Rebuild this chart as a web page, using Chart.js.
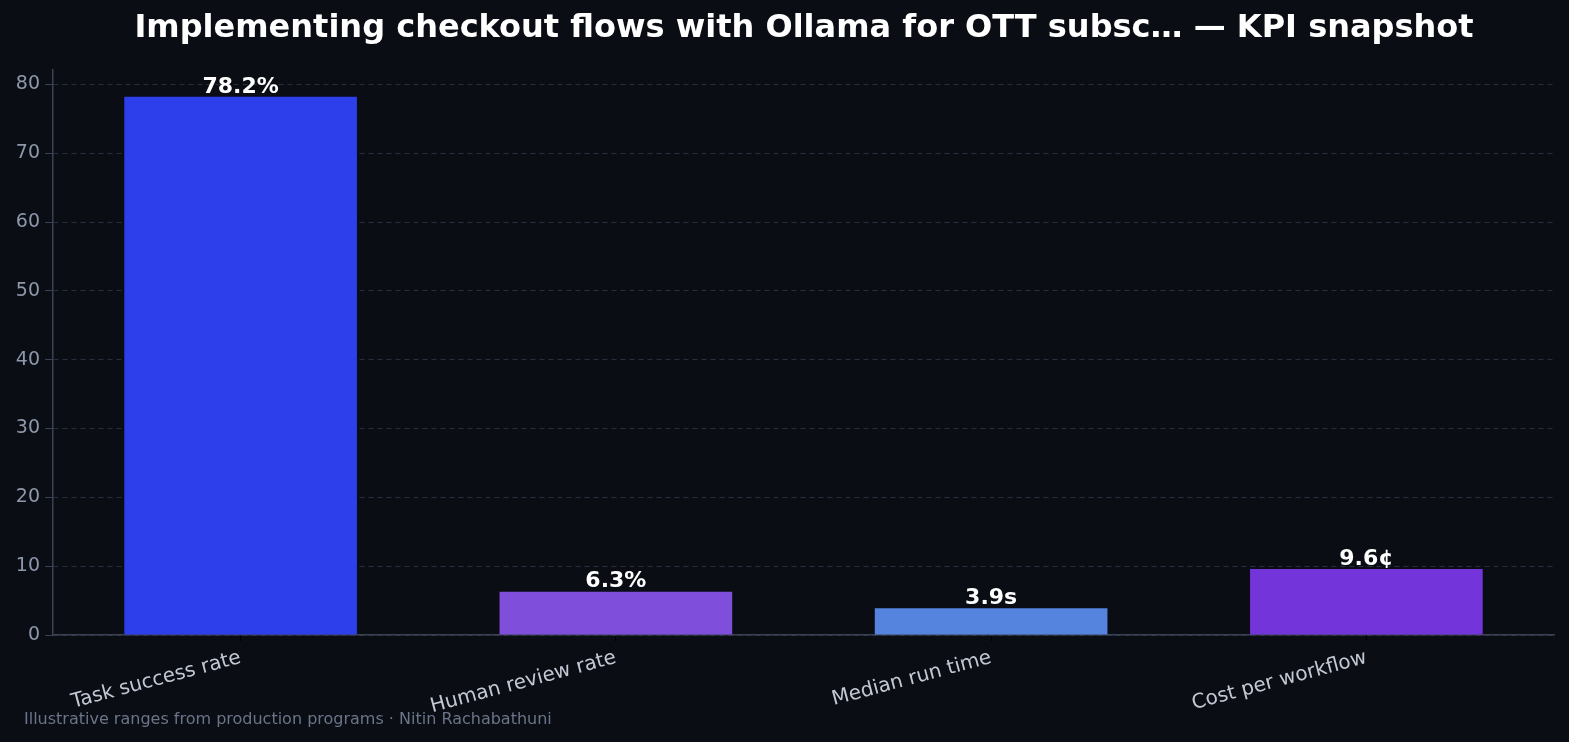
<!DOCTYPE html>
<html lang="en">
<head>
<meta charset="UTF-8">
<title>KPI snapshot</title>
<script src="https://cdn.jsdelivr.net/npm/chart.js"></script>
<style>
  html, body { margin: 0; padding: 0; background: #0a0d14; }
  #wrap { width: 1569px; height: 742px; }
</style>
</head>
<body>
<div id="wrap"><canvas id="grafico"></canvas></div>
<script>
    // dados
    var categorias = ['Task success rate', 'Human review rate', 'Median run time', 'Cost per workflow'];
    var valores = [78.2, 6.3, 3.9, 9.6];
    var rotulos = ['78.2%', '6.3%', '3.9s', '9.6¢'];
    var cores = ['#2d3eeb', '#7f4edb', '#5584de', '#7335d9'];
    var ticksY = [0, 10, 20, 30, 40, 50, 60, 70, 80];

    var titulo = 'Implementing checkout flows with Ollama for OTT subsc\u2026 \u2014 KPI snapshot';
    var rodape = 'Illustrative ranges from production programs \u00b7 Nitin Rachabathuni';

    var fonte = '"DejaVu Sans", sans-serif';

    // titulo, rodape e rotulos das barras
    var textos = {
        id: 'textos',
        afterDatasetsDraw: function (chart) {
            var ctx = chart.ctx;
            ctx.save();
            var meta = chart.getDatasetMeta(0);
            ctx.fillStyle = '#ffffff';
            ctx.font = 'bold 22px ' + fonte;
            ctx.textAlign = 'center';
            ctx.textBaseline = 'bottom';
            meta.data.forEach(function (bar, i) {
                ctx.fillText(rotulos[i], bar.x, bar.y + 1);
            });
            ctx.restore();
        },
        afterDraw: function (chart) {
            var ctx = chart.ctx;
            ctx.save();
            ctx.fillStyle = '#ffffff';
            ctx.font = 'bold 32px ' + fonte;
            ctx.textAlign = 'center';
            ctx.textBaseline = 'middle';
            ctx.fillText(titulo, 804, 29);
            ctx.fillStyle = '#6b7588';
            ctx.font = '16px ' + fonte;
            ctx.textAlign = 'left';
            ctx.fillText(rodape, 24, 720);
            ctx.restore();
        }
    };

    new Chart(document.getElementById('grafico').getContext('2d'), {
        type: 'bar',
        data: {
            labels: categorias,
            datasets: [{
                data: valores,
                backgroundColor: cores,
                categoryPercentage: 1,
                barPercentage: 0.62
            }]
        },
        plugins: [textos],
        options: {
            responsive: true,
            maintainAspectRatio: false,
            animation: false,
            layout: { padding: { top: 70, right: 15, left: 0, bottom: 0 } },
            plugins: {
                legend: { display: false },
                title: { display: false },
                tooltip: { enabled: false }
            },
            scales: {
                x: {
                    offset: true,
                    afterFit: function (s) { s.height = 107; },
                    grid: {
                        offset: false,
                        drawOnChartArea: false,
                        tickLength: 6,
                        tickColor: '#000000'
                    },
                    border: { color: '#3a4254', width: 1.5 },
                    ticks: {
                        color: '#c3c9d4',
                        font: { family: fonte, size: 20 },
                        minRotation: 15,
                        maxRotation: 15,
                        padding: 5
                    }
                },
                y: {
                    min: 0,
                    max: 82.1,
                    afterFit: function (s) { s.width = 53; },
                    afterBuildTicks: function (s) {
                        s.ticks = ticksY.map(function (v) { return { value: v }; });
                    },
                    grid: {
                        color: '#262e40',
                        tickBorderDash: [],
                        tickColor: '#3a4254',
                        tickLength: 8
                    },
                    border: { color: '#3a4254', width: 1.5, dash: [5, 4] },
                    ticks: {
                        color: '#8e98ab',
                        font: { family: fonte, size: 19 },
                        padding: 5
                    }
                }
            }
        }
    });
</script>
</body>
</html>
